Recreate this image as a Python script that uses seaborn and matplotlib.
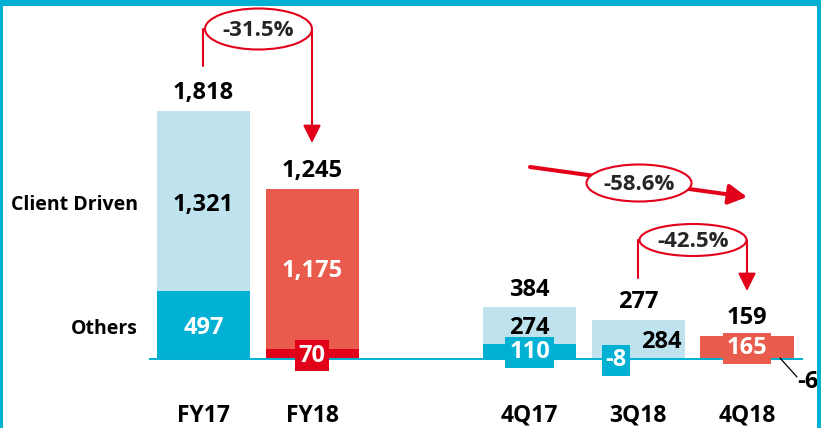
import numpy as np
import pandas as pd
import matplotlib
matplotlib.use("Agg")
import matplotlib.pyplot as plt
import seaborn as sns
from matplotlib.patches import Ellipse, Rectangle

# ---- data ----
categories = ["FY17", "FY18", "4Q17", "3Q18", "4Q18"]
client_driven = [1321, 1175, 274, 284, 165]
others = [497, 70, 110, -8, -6]
totals = [1818, 1245, 384, 277, 159]
order = ["FY17", "FY18", " ", "4Q17", "3Q18", "4Q18"]
row_labels = ["Client Driven", "Others"]
change_labels = ["-31.5%", "-58.6%", "-42.5%"]

LIGHT = "#BEE3EE"
TEAL = "#00B1D3"
TOMATO = "#E95C4D"
CRIMSON = "#E1001A"
RED = "#E2001A"

top_colors = {"FY17": LIGHT, "FY18": TOMATO, "4Q17": LIGHT, "3Q18": LIGHT, "4Q18": TOMATO}
oth_colors = {"FY17": TEAL, "FY18": CRIMSON, "4Q17": TEAL, "3Q18": TEAL, "4Q18": CRIMSON}

stack_top = [c + max(o, 0) for c, o in zip(client_driven, others)]
df = pd.DataFrame({"period": categories, "top": stack_top, "others": others})

sns.set_theme(style="white")
plt.rcParams["font.family"] = ["Open Sans", "DejaVu Sans"]

W, H = 821, 428
fig = plt.figure(figsize=(W / 100, H / 100), dpi=100)
ax = fig.add_axes([0, 0, 1, 1])

sns.barplot(data=df, x="period", y="top", order=order, hue="period", palette=top_colors,
            width=0.857, dodge=False, legend=False, errorbar=None, saturation=1,
            linewidth=0, ax=ax)
sns.barplot(data=df, x="period", y="others", order=order, hue="period", palette=oth_colors,
            width=0.857, dodge=False, legend=False, errorbar=None, saturation=1,
            linewidth=0, ax=ax)

PX0, STEP, BASE = 203.5, 108.7, 359.0
S = 248.0 / 1818.0
ax.set_xlim((0 - PX0) / STEP, (W - PX0) / STEP)
ax.set_ylim(-(H - BASE) / S, BASE / S)
ax.axis("off")


def X(px):
    return (px - PX0) / STEP


def Y(py):
    return (BASE - py) / S


pos = {c: order.index(c) for c in categories}

# baseline
ax.plot([X(149), X(803)], [0, 0], color=TEAL, lw=1.4, zorder=3, solid_capstyle="butt")

DY = 1.5  # vertical centring correction (px)


def txt(x, py, s, color="black", size=17, box=None, ha="center", z=7):
    kw = {}
    if box is not None:
        kw["bbox"] = dict(boxstyle="square,pad=0.16", fc=box, ec="none")
    ax.text(x, Y(py + DY), s, color=color, fontsize=size, fontweight="bold", ha=ha,
            va="center", zorder=z, **kw)


# x labels
for c in categories:
    txt(pos[c], 414, c, size=16.5)

# row labels
txt(X(138), 203, row_labels[0], size=14, ha="right")
txt(X(138), 327, row_labels[1], size=14, ha="right")

# totals
total_py = [92, 170, 288, 300, 316]
for c, t, py in zip(categories, totals, total_py):
    txt(pos[c], py, f"{t:,}")

# segment labels
txt(pos["FY17"], 203, f"{client_driven[0]:,}")
txt(pos["FY17"], 327, f"{others[0]:,}", color="white")
txt(pos["FY18"], 270, f"{client_driven[1]:,}", color="white")
txt(pos["FY18"], 354, f"{others[1]:,}", color="white", box=CRIMSON)
txt(pos["4Q17"], 327, f"{client_driven[2]:,}")
txt(pos["4Q17"], 351, f"{others[2]:,}", color="white", box=TEAL)
txt(X(616), 359, f"{others[3]:,}", color="white", box=TEAL)
txt(X(661), 340, f"{client_driven[3]:,}")
txt(pos["4Q18"], 347, f"{client_driven[4]:,}", color="white", box=TOMATO)
txt(X(808), 380, f"{others[4]:,}")
ax.plot([X(780), X(797)], [Y(358), Y(377)], color="black", lw=0.9, zorder=4)


def ellipse(cx, cy, w, h, label):
    e = Ellipse((X(cx), Y(cy)), w / STEP, h / S, fc="white", ec=RED, lw=1.5, zorder=5)
    ax.add_patch(e)
    ax.text(X(cx), Y(cy + DY), label, fontsize=16, fontweight="bold", ha="center",
            va="center", zorder=6)


def arrow(p0, p1, lw, ms, hw=0.5):
    ax.annotate("", xy=(X(p1[0]), Y(p1[1])), xytext=(X(p0[0]), Y(p0[1])),
                arrowprops=dict(arrowstyle=f"-|>,head_length=1,head_width={hw}",
                                color=RED, lw=lw, mutation_scale=ms,
                                shrinkA=0, shrinkB=0),
                zorder=4)


# -31.5%
ax.plot([X(203), X(203)], [Y(66), Y(29)], color=RED, lw=1.5, zorder=4)
arrow((312, 29), (312, 143), 1.5, 10.8)
ellipse(258.5, 29, 107, 41, change_labels[0])

# -58.6%
arrow((530, 167), (747, 197), 2.9, 11, 0.55)
ellipse(639, 183, 105, 37, change_labels[1])

# -42.5%
ax.plot([X(638), X(638)], [Y(278), Y(240)], color=RED, lw=1.5, zorder=4)
arrow((747, 240), (747, 291), 1.5, 10.8)
ellipse(693, 240, 107, 32, change_labels[2])

# frame
fig.add_artist(Rectangle((0, 1 - 6 / H), 1, 6 / H, transform=fig.transFigure,
                         fc=TEAL, ec="none", zorder=10))
fig.add_artist(Rectangle((0, 0), 3 / W, 1, transform=fig.transFigure,
                         fc=TEAL, ec="none", zorder=10))
fig.add_artist(Rectangle((1 - 4 / W, 0), 4 / W, 1, transform=fig.transFigure,
                         fc=TEAL, ec="none", zorder=10))

fig.savefig("out.png", dpi=100, facecolor="white")
